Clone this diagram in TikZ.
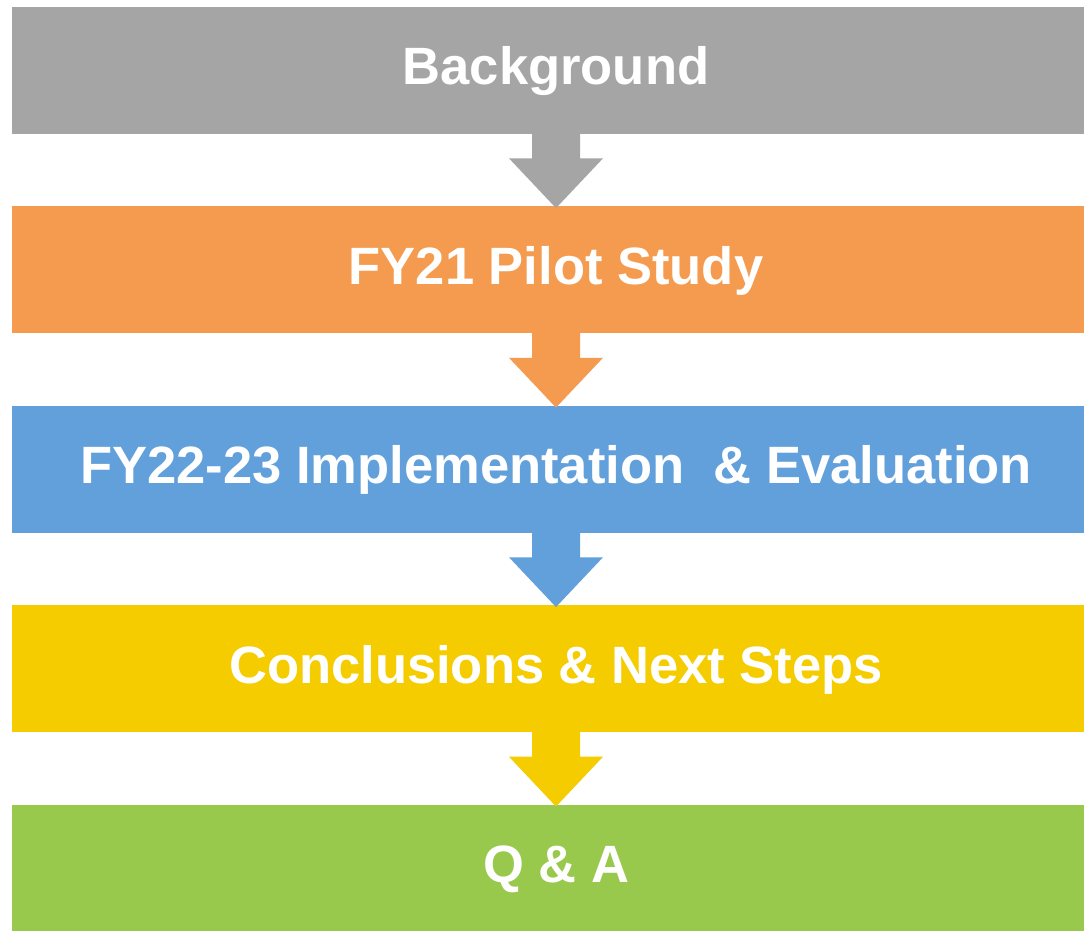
\documentclass[tikz,border=0pt]{standalone}
\usepackage{fontspec}
\setmainfont{Liberation Sans}
\usetikzlibrary{calc}

\definecolor{bggray}{HTML}{A5A5A5}
\definecolor{pilotorange}{HTML}{F59B4F}
\definecolor{implblue}{HTML}{62A0DB}
\definecolor{nextyellow}{HTML}{F4CC00}
\definecolor{qagreen}{HTML}{98C84C}

\begin{document}
\begin{tikzpicture}[x=0.02cm, y=-0.02cm]
\tikzstyle{stage}=[rectangle, minimum width=21.76cm, minimum height=2.54cm, inner sep=0pt, text=white, font=\fontsize{29.9}{35}\selectfont\bfseries, text height=0.57cm, text depth=0pt, node distance=3.99cm]
\tikzstyle{connect}=[draw=none, to path={($(\tikztostart.south)+(-24,-1)$) -- ($(\tikztostart.south)+(-24,24)$) -- ($(\tikztostart.south)+(-47,24)$) -- ($(\tikztotarget.north)+(0,2)$) -- ($(\tikztostart.south)+(47,24)$) -- ($(\tikztostart.south)+(24,24)$) -- ($(\tikztostart.south)+(24,-1)$) -- cycle}]

  \fill[white] (0,0) rectangle (1084,930);
  \clip (0,0) rectangle (1084,930);

  \node[stage, fill=bggray] (bg) at (556,70.5) {Background};
  \node[stage, fill=pilotorange] (pilot) [below of=bg] {FY21 Pilot Study};
  \node[stage, fill=implblue] (impl) [below of=pilot] {FY22-23 Implementation~ \& Evaluation};
  \node[stage, fill=nextyellow] (concl) [below of=impl] {Conclusions \& Next Steps};
  \node[stage, fill=qagreen] (qa) [below of=concl] {Q \& A};

  \path (bg) edge [connect, fill=bggray] (pilot)
        (pilot) edge [connect, fill=pilotorange] (impl)
        (impl) edge [connect, fill=implblue] (concl)
        (concl) edge [connect, fill=nextyellow] (qa);

\end{tikzpicture}
\end{document}
